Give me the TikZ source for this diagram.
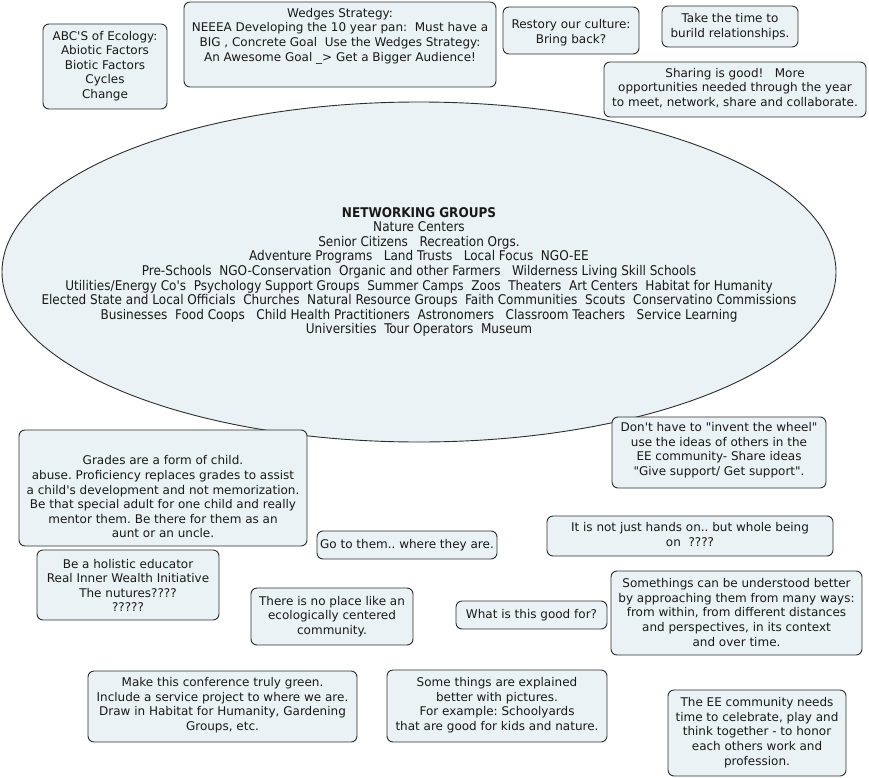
\documentclass[tikz,border=0pt]{standalone}
\usepackage{fontspec}
\setmainfont{DejaVu Sans}
\newfontfamily\ellfont{DejaVu Sans Condensed}
\definecolor{cardfill}{RGB}{234,242,245}
\definecolor{cardline}{RGB}{45,45,45}
\definecolor{txt}{RGB}{25,25,25}
\tikzset{
  cardbox/.style={draw=cardline, fill=cardfill, line width=0.9pt, rounded corners=6pt},
  cardtext/.style={align=center, text=txt, inner sep=0pt, font=\fontsize{12}{14.6}\selectfont},
  elltext/.style={align=center, text=txt, inner sep=0pt, font=\ellfont\fontsize{13.4}{14.6}\selectfont},
}
\newcommand\card[7]{%
  \draw[cardbox] (#2,#3) rectangle (#4,#5);
  \node[cardtext] (#1) at ({(#2+#4)/2},#6) {#7};}
\frenchspacing
\begin{document}
\begin{tikzpicture}[x=1pt,y=-1pt]
\useasboundingbox (0,0) rectangle (869,778);
% ellipse
\draw[draw=cardline, fill=cardfill, line width=0.9pt] (419,272) ellipse [x radius=417, y radius=170];
\node[elltext] (groups) at (419,272) {{\bfseries NETWORKING GROUPS}\\
Nature Centers\\
Senior Citizens\ \ \ Recreation Orgs.\\
Adventure Programs\ \ \ Land Trusts\ \ \ Local Focus\ \ NGO-EE\\
Pre-Schools\ \ NGO-Conservation\ \ Organic and other Farmers\ \ \ Wilderness Living Skill Schools\\
Utilities/Energy Co\textquotesingle s\ \ Psychology Support Groups\ \ Summer Camps\ \ Zoos\ \ Theaters\ \ Art Centers\ \ Habitat for Humanity\\
Elected State and Local Officials\ \ Churches\ \ Natural Resource Groups\ \ Faith Communities\ \ Scouts\ \ Conservatino Commissions\\
Businesses\ \ Food Coops\ \ \ Child Health Practitioners\ \ Astronomers\ \ \ Classroom Teachers\ \ \ Service Learning\\
Universities\ \ Tour Operators\ \ Museum};
% top cards
\card{abc}{43}{24}{167}{109}{66}{ABC\textquotesingle S of Ecology:\\Abiotic Factors\\Biotic Factors\\Cycles\\Change}
\card{wedges}{184}{2}{496}{87}{36}{Wedges Strategy:\\NEEEA Developing the 10 year pan:\ \ Must have a\\BIG , Concrete Goal\ \ Use the Wedges Strategy:\\An Awesome Goal \_> Get a Bigger Audience!}
\card{restory}{503}{7}{639}{54}{32.5}{Restory our culture:\\Bring back?}
\card{take}{662}{6}{798}{47}{26.5}{Take the time to\\burild relationships.}
\card{sharing}{604}{62}{866}{117}{88}{Sharing is good!\ \ \ More\\opportunities needed through the year\\to meet, network, share and collaborate.}
% lower cards
\card{grades}{19}{430}{307}{546}{497}{Grades are a form of child.\\abuse. Proficiency replaces grades to assist\\a child\textquotesingle s development and not memorization.\\Be that special adult for one child and really\\mentor them. Be there for them as an\\aunt or an uncle.}
\card{holistic}{37}{550}{219}{620}{585.5}{Be a holistic educator\\Real Inner Wealth Initiative\\The nutures????\\?????}
\card{dont}{612}{417}{826}{488}{450}{Don\textquotesingle t have to \textquotedbl invent the wheel\textquotedbl\\use the ideas of others in the\\EE community- Share ideas\\\textquotedbl Give support/ Get support\textquotedbl.}
\card{goto}{317}{531}{497}{559}{545}{Go to them.. where they are.}
\card{notjust}{547}{516}{833}{556}{534.5}{It is not just hands on.. but whole being\\on\ \ ????}
\card{noplace}{251}{588}{413}{645}{616.5}{There is no place like an\\ecologically centered\\community.}
\card{what}{456}{601}{607}{629}{615}{What is this good for?}
\card{somethings}{611}{571}{862}{655}{612.5}{Somethings can be understood better\\by approaching them from many ways:\\from within, from different distances\\and perspectives, in its context\\and over time.}
\card{make}{88}{671}{357}{742}{705}{Make this conference truly green.\\Include a service project to where we are.\\Draw in Habitat for Humanity, Gardening\\Groups, etc.}
\card{pictures}{387}{670}{607}{742}{705}{Some things are explained\\better with pictures.\\For example: Schoolyards\\that are good for kids and nature.}
\card{ee}{668}{690}{846}{776}{732.5}{The EE community needs\\time to celebrate, play and\\think together - to honor\\each others work and\\profession.}
\end{tikzpicture}
\end{document}
